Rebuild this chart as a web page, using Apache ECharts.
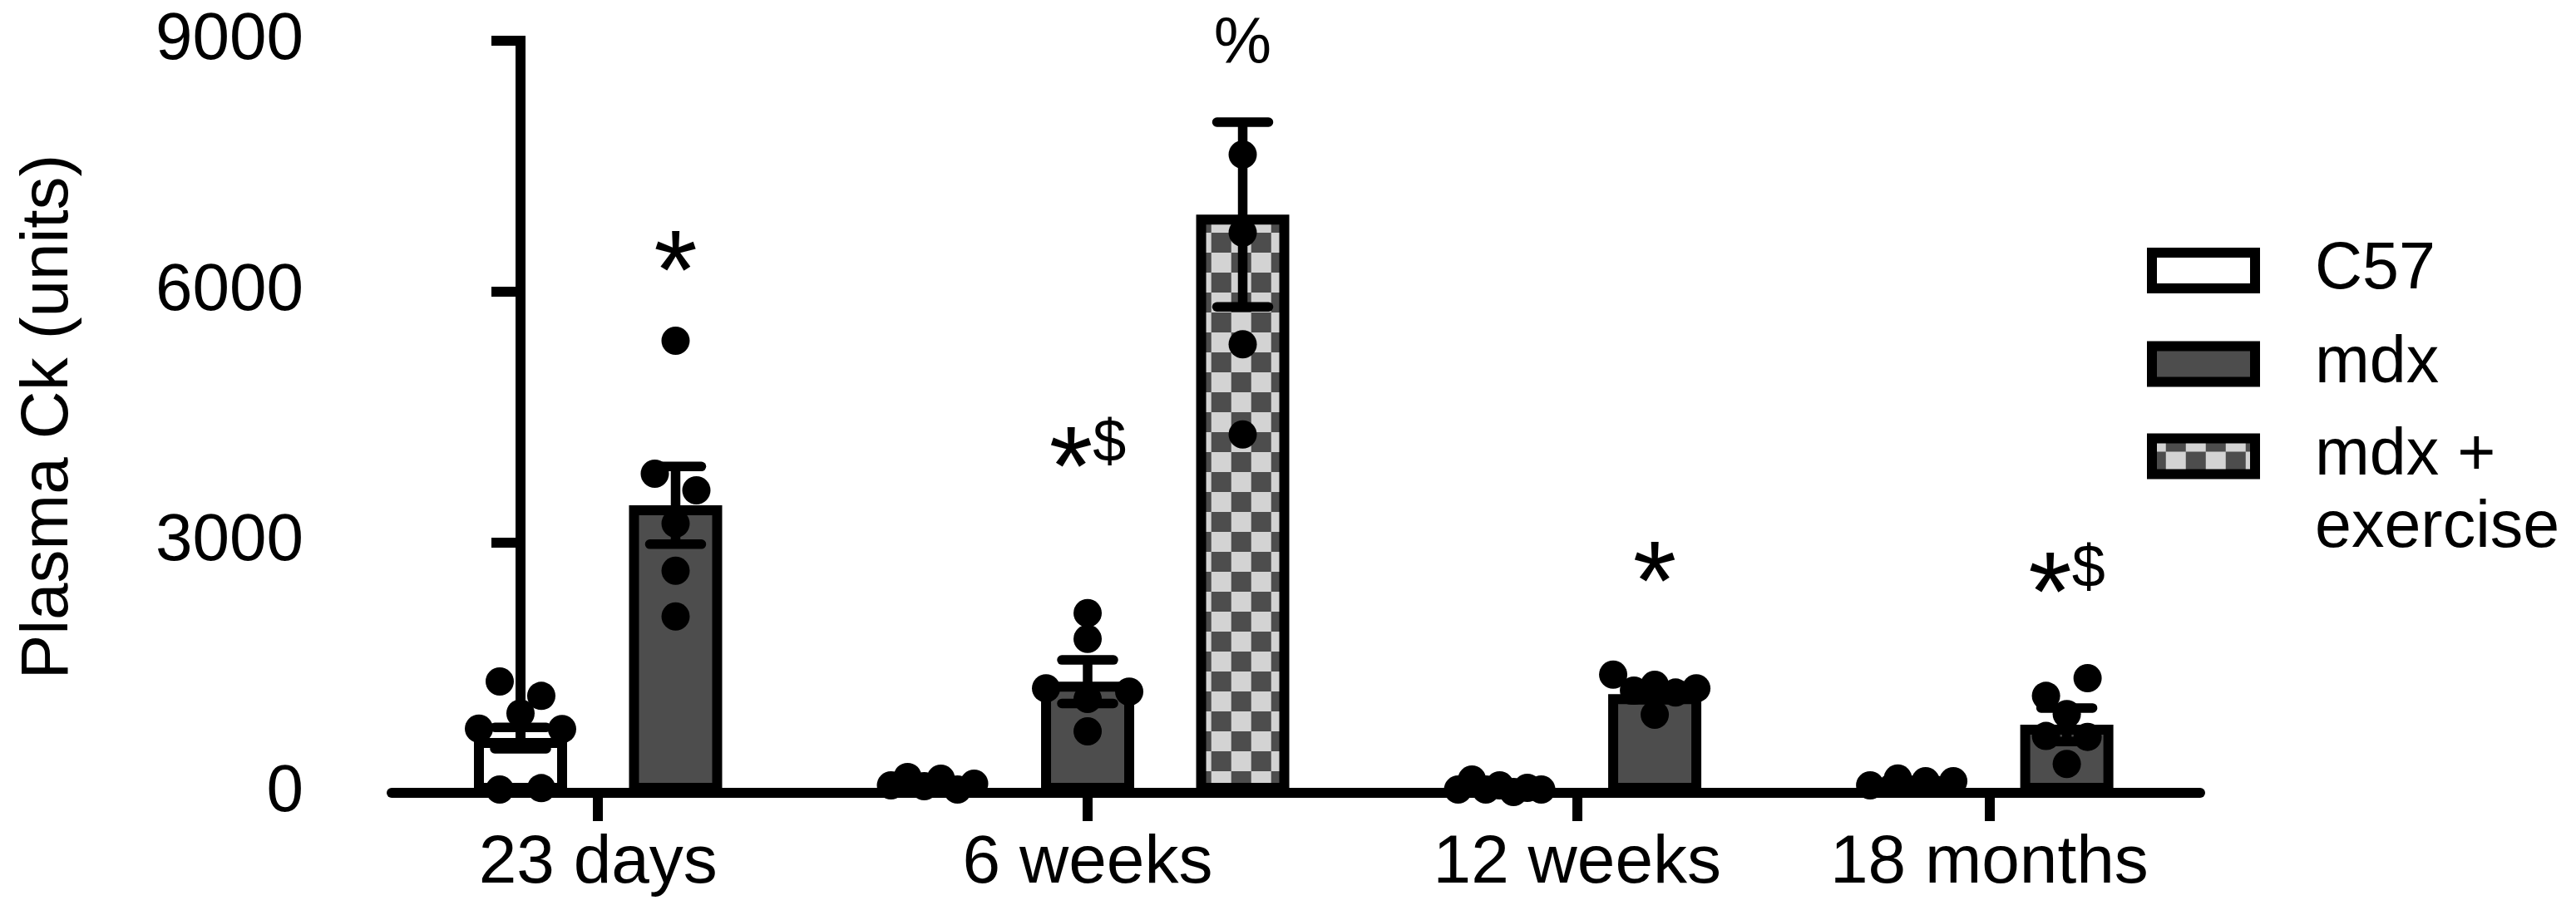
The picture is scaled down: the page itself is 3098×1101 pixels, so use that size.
<!DOCTYPE html>
<html><head><meta charset="utf-8">
<script src="https://cdn.jsdelivr.net/npm/echarts@6/dist/echarts.min.js"></script>
<style>html,body{margin:0;padding:0;background:#fff}#c{width:3098px;height:1101px}</style>
</head><body><div id="c"></div>
<script>
// ---------- data ----------
const categories = ['23 days', '6 weeks', '12 weeks', '18 months'];
const seriesNames = ['C57', 'mdx', 'mdx + exercise'];
const yTicks = [0, 3000, 6000, 9000];
const c57Mean = [656, 113, 50, 135];
const c57Sem = [128, 25, 20, 15];
const mdxMean = [3440, 1330, 1180, 815];
const mdxSem = [465, 260, 65, 200];
const exMean = [null, 6920, null, null];
const exSem = [null, 1105, null, null];
const c57Dots = [[1333, 1160, 769, 951, 763, 40, 56], [90, 190, 80, 170, 40, 110], [40, 160, 40, 90, 10, 60, 40], [90, 172, 139, 139]];
const mdxDots = [[5410, 3819, 3620, 3222, 2658, 2111], [2151, 1843, 1250, 1124, 1210, 736], [1415, 1223, 1293, 1200, 1250, 935], [1160, 1372, 942, 680, 670, 345]];
const exDots = [[], [7638, 6703, 5367, 4289], [], []];
const mdxMarks = ['*', '*$', '*', '*$'];
const mdxMarkLevel = [6520, 4170, 2800, 2665];
const exMarks = ['', '%', '', ''];
const exMarkLevel = [null, 8950, null, null];

// ---------- layout ----------
const W = 3098, H = 1101;
const GRID = { left: 471, right: 452, top: 49, bottom: 147 };
const GROUP_EXTRA = 0.657;      // extra space between groups (in bar slots)
const PAD_L = 0.831, PAD_R = 0.86;
const FONT = "'Liberation Sans', Arial, sans-serif";
const DARK = '#4d4d4d', LIGHT = '#d3d3d3';
const means = [c57Mean, mdxMean, exMean];
const sems = [c57Sem, mdxSem, exSem];
const dots = [c57Dots, mdxDots, exDots];

const slotX = [[], [], []];
const tickPos = [];
let start = 0;
categories.forEach((c, g) => {
  let k = 0;
  means.forEach((m, s) => { if (m[g] != null) { slotX[s][g] = start + k; k++; } });
  tickPos.push(start + (k - 1) / 2);
  start += k + GROUP_EXTRA;
});
const xMin = -PAD_L;
const xMax = start - 1 - GROUP_EXTRA + PAD_R;
const plotW = W - GRID.left - GRID.right;
const plotH = H - GRID.top - GRID.bottom;
const slotPx = plotW / (xMax - xMin);
const pxPerUnit = plotH / 9000;

// beeswarm: group points into rows, spread evenly within a row
const ROW_PX = 25, MAX_STEP_PX = 50, MAX_SPREAD_PX = 100;
function swarm(values, x0) {
  const idx = values.map((v, i) => i).sort((a, b) => values[b] - values[a]);
  const rows = [];
  idx.forEach(i => {
    const r = rows[rows.length - 1];
    if (r && (values[r[0]] - values[i]) * pxPerUnit <= ROW_PX) r.push(i); else rows.push([i]);
  });
  const out = [];
  rows.forEach(r => {
    r.sort((a, b) => a - b);
    const n = r.length;
    const step = n > 1 ? Math.min(MAX_STEP_PX, MAX_SPREAD_PX / (n - 1)) : 0;
    r.forEach((i, j) => out.push([x0 + (j - (n - 1) / 2) * step / slotPx, values[i]]));
  });
  return out;
}

// checker pattern
const pc = document.createElement('canvas');
pc.width = 48; pc.height = 48;
const ctx = pc.getContext('2d');
ctx.fillStyle = LIGHT; ctx.fillRect(0, 0, 48, 48);
ctx.fillStyle = DARK; ctx.fillRect(0, 0, 24, 24); ctx.fillRect(24, 24, 24, 24);
const checker = { image: pc, repeat: 'repeat', x: 40.7, y: 16 };

const fills = ['#ffffff', DARK, checker];
const series = [];
seriesNames.forEach((name, s) => {
  const data = [];
  categories.forEach((c, g) => { if (means[s][g] != null) data.push([slotX[s][g], means[s][g]]); });
  series.push({
    name, type: 'bar', data, barWidth: 112, barGap: '-100%', z: 2,
    itemStyle: { color: fills[s], borderColor: '#000', borderWidth: 12, opacity: 1 },
    emphasis: { disabled: true }
  });
});
// error bars
const errData = [];
seriesNames.forEach((name, s) => categories.forEach((c, g) => {
  if (means[s][g] != null) errData.push([slotX[s][g], means[s][g], sems[s][g]]);
}));
series.push({
  type: 'custom', z: 3, data: errData, silent: true,
  encode: { x: 0, y: 1 },
  renderItem(params, api) {
    const x = api.value(0), m = api.value(1), e = api.value(2);
    const t = api.coord([x, m + e]), b = api.coord([x, m - e]);
    const hw = 31, lw = 11.5;
    return { type: 'group', children: [
      { type: 'line', shape: { x1: t[0], y1: t[1], x2: b[0], y2: b[1] }, style: { stroke: '#000', lineWidth: lw } },
      { type: 'line', shape: { x1: t[0] - hw, y1: t[1], x2: t[0] + hw, y2: t[1] }, style: { stroke: '#000', lineWidth: lw, lineCap: 'round' } },
      { type: 'line', shape: { x1: b[0] - hw, y1: b[1], x2: b[0] + hw, y2: b[1] }, style: { stroke: '#000', lineWidth: lw, lineCap: 'round' } }
    ] };
  }
});
// dots
const dotData = [];
seriesNames.forEach((name, s) => categories.forEach((c, g) => {
  if (dots[s][g] && dots[s][g].length) dotData.push(...swarm(dots[s][g], slotX[s][g]));
}));
series.push({
  type: 'scatter', z: 4, data: dotData, symbol: 'circle', symbolSize: 34, silent: true,
  itemStyle: { color: '#000', opacity: 1 }
});
// annotations
const markData = [];
categories.forEach((c, g) => {
  if (mdxMarks[g]) markData.push({ value: [slotX[1][g], mdxMarkLevel[g]], txt: mdxMarks[g] });
  if (exMarks[g]) markData.push({ value: [slotX[2][g], exMarkLevel[g]], txt: exMarks[g] });
});
series.push({
  type: 'scatter', z: 5, symbolSize: 1, silent: true, itemStyle: { color: '#fff', opacity: 0 },
  data: markData.map(d => ({ value: d.value, name: d.txt })),
  label: {
    show: true, position: 'inside', color: '#000', opacity: 1, fontFamily: FONT,
    formatter: p => p.name.split('').map(ch => ch === '*' ? '{a|*}' : ch === '$' ? '{d|$}' : '{p|' + ch + '}').join(''),
    rich: {
      a: { fontSize: 135, fontFamily: FONT, color: '#000', padding: [70, 0, 0, 0] },
      d: { fontSize: 72, fontFamily: FONT, color: '#000' },
      p: { fontSize: 78, fontFamily: FONT, color: '#000' }
    }
  }
});

const legendTop = [282, 394.5, 418.5];
const legends = seriesNames.map((name, s) => ({
  orient: 'vertical', left: 2582, top: legendTop[s], padding: 0, selectedMode: false,
  icon: 'rect', itemWidth: 124, itemHeight: 43,
  data: [{ name, itemStyle: { color: fills[s], borderColor: '#000', borderWidth: 12 } }],
  formatter: n => n === 'mdx + exercise' ? '\u00a0\nmdx +\nexercise' : n,
  textStyle: { fontSize: 79, fontFamily: FONT, color: '#000', lineHeight: 87, padding: [0, 0, 0, 67] }
}));

const chart = echarts.init(document.getElementById('c'), null, { renderer: 'canvas' });
chart.setOption({
  backgroundColor: '#fff',
  animation: false,
  grid: GRID,
  legend: legends,
  xAxis: {
    type: 'value', min: xMin, max: xMax,
    splitLine: { show: false },
    axisLine: { show: true, onZero: false, lineStyle: { color: '#000', width: 12 } },
    axisTick: { show: true, customValues: tickPos, length: 34, lineStyle: { color: '#000', width: 12 } },
    axisLabel: {
      show: true, customValues: tickPos, margin: 44, fontSize: 82, fontFamily: FONT, color: '#000',
      formatter: v => { const i = tickPos.findIndex(t => Math.abs(t - v) < 1e-6); return i >= 0 ? categories[i] : ''; }
    }
  },
  yAxis: {
    type: 'value', min: yTicks[0], max: yTicks[yTicks.length - 1], interval: yTicks[1] - yTicks[0],
    name: 'Plasma Ck (units)', nameLocation: 'middle', nameGap: 372,
    nameTextStyle: { fontSize: 80, fontFamily: FONT, color: '#000' },
    splitLine: { show: false },
    axisLine: { show: true, lineStyle: { color: '#000', width: 12, cap: 'square' } },
    axisTick: { show: true, length: 35, lineStyle: { color: '#000', width: 12 } },
    axisLabel: { margin: 106, fontSize: 80, fontFamily: FONT, color: '#000', formatter: v => String(v) }
  },
  series
});
</script></body></html>
